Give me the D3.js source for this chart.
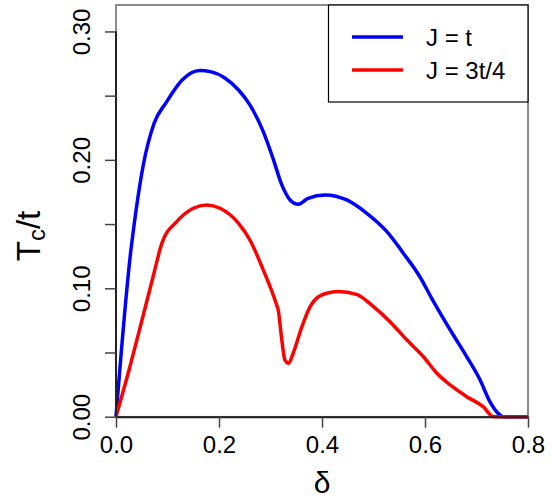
<!DOCTYPE html>
<html>
<head>
<meta charset="utf-8">
<script src="https://cdn.jsdelivr.net/npm/d3@7"></script>
<style>
  body { margin: 0; background: #fff; }
  svg { font-family: "Liberation Sans", Arial, sans-serif; }
</style>
</head>
<body>
<svg id="chart" width="552" height="501"></svg>
<script>
// --- Data (delta, Tc/t) ---
const deltaJt = [0, 0.029, 0.035, 0.053, 0.074, 0.098, 0.128, 0.163, 0.183, 0.212, 0.238, 0.260,
  0.286, 0.305, 0.322, 0.338, 0.354, 0.373, 0.406, 0.448, 0.487, 0.526, 0.558, 0.590,
  0.613, 0.655, 0.681, 0.707, 0.726, 0.742, 0.752, 0.8];
const tcJt = [0, 0.130, 0.149, 0.196, 0.2285, 0.245, 0.262, 0.2695, 0.2687, 0.2636, 0.2544, 0.2428,
  0.222, 0.201, 0.1805, 0.1688, 0.1654, 0.1701, 0.1727, 0.1688, 0.1584, 0.1441, 0.1273, 0.109,
  0.0922, 0.0636, 0.0467, 0.0286, 0.0117, 0.0026, 0, 0];

const deltaJ34 = [0, 0.027, 0.053, 0.072, 0.089, 0.118, 0.150, 0.176, 0.202, 0.238, 0.260, 0.286,
  0.312, 0.315, 0.322, 0.328, 0.335, 0.344, 0.361, 0.377, 0.386, 0.409, 0.432, 0.467,
  0.500, 0.532, 0.565, 0.597, 0.623, 0.649, 0.681, 0.713, 0.733, 0.8];
const tcJ34 = [0, 0.0389, 0.0792, 0.109, 0.135, 0.1519, 0.1623, 0.1649, 0.1623, 0.1506, 0.1376, 0.1143,
  0.087, 0.0831, 0.0597, 0.0442, 0.0416, 0.0494, 0.0701, 0.0857, 0.0909, 0.0961, 0.0974, 0.0953,
  0.0857, 0.074, 0.0597, 0.0467, 0.0338, 0.0247, 0.0156, 0.0078, 0, 0];

const seriesNames = ["J = t", "J = 3t/4"];
const seriesColors = ["#0000ff", "#ff0000"];
const xTicks = [0, 0.2, 0.4, 0.6, 0.8];
const yTicks = [0, 0.05, 0.10, 0.15, 0.20, 0.25, 0.30];
const yLabelTicks = [0, 0.10, 0.20, 0.30];

// --- Layout ---
const svg = d3.select("#chart");
const plot = { left: 116, right: 528, top: 5, bottom: 416.7 };

const x = d3.scaleLinear().domain([0, 0.8]).range([plot.left, plot.right]);
const y = d3.scaleLinear().domain([0, 0.3206]).range([plot.bottom, plot.top]);

// box around the plot (grey, like R's box())
svg.append("rect")
  .attr("x", plot.left).attr("y", plot.top)
  .attr("width", plot.right - plot.left).attr("height", plot.bottom - plot.top)
  .attr("fill", "none").attr("stroke", "#666").attr("stroke-width", 1.5);

// --- Curves ---
const line = d3.line().x(d => x(d[0])).y(d => y(d[1])).curve(d3.curveMonotoneX);
const curves = [d3.zip(deltaJt, tcJt), d3.zip(deltaJ34, tcJ34)];

svg.selectAll(".curve")
  .data(curves)
  .join("path")
  .attr("class", "curve")
  .attr("d", line)
  .attr("fill", "none")
  .attr("stroke", (d, i) => seriesColors[i])
  .attr("stroke-width", 3.5)
  .attr("stroke-linejoin", "round");

// --- Axes ---
const xAxis = svg.append("g")
  .attr("transform", `translate(0,${plot.bottom})`)
  .call(d3.axisBottom(x).tickValues(xTicks).tickSize(11).tickPadding(8)
    .tickFormat(d3.format(".1f")).tickSizeOuter(0));

const yAxis = svg.append("g")
  .attr("transform", `translate(${plot.left},0)`)
  .call(d3.axisLeft(y).tickValues(yTicks).tickSize(11).tickSizeOuter(0)
    .tickFormat(d => yLabelTicks.some(v => Math.abs(v - d) < 1e-9) ? d3.format(".2f")(d) : ""));

[xAxis, yAxis].forEach(g => {
  g.select(".domain").attr("stroke", "#222").attr("stroke-width", 2);
  g.selectAll(".tick line").attr("stroke", "#444").attr("stroke-width", 1.5);
  g.selectAll(".tick text").attr("fill", "#000").style("font-size", "24px")
    .style("font-family", "'Liberation Sans', Arial, sans-serif");
});

// left axis only spans the tick range in R
yAxis.select(".domain").attr("d", `M0,${y(0)}V${y(0.30)}`);

// rotate y tick labels (R's las = 0)
yAxis.selectAll(".tick text")
  .attr("x", null).attr("dy", null)
  .attr("text-anchor", "middle")
  .attr("transform", "translate(-26,0) rotate(-90)");

// --- Axis titles ---
svg.append("text")
  .attr("x", 322).attr("y", 493)
  .attr("text-anchor", "middle")
  .style("font-size", "30px")
  .text("δ");

const yTitle = svg.append("text")
  .attr("transform", "translate(40,236) rotate(-90)")
  .attr("text-anchor", "middle")
  .style("font-size", "33px");
yTitle.append("tspan").text("T");
yTitle.append("tspan").attr("dy", 5).style("font-size", "24px").text("c");
yTitle.append("tspan").attr("dy", -5).text("/t");

// --- Legend ---
const legend = svg.append("g");
legend.append("rect")
  .attr("x", 328.5).attr("y", 5)
  .attr("width", plot.right - 328.5).attr("height", 97)
  .attr("fill", "#fff").attr("stroke", "#000").attr("stroke-width", 1.2);

legend.selectAll(".legend-item")
  .data(seriesNames)
  .join("g")
  .attr("class", "legend-item")
  .attr("transform", (d, i) => `translate(0,${37 + i * 33})`)
  .call(g => {
    g.append("line")
      .attr("x1", 352).attr("x2", 403)
      .attr("stroke", (d, i) => seriesColors[i])
      .attr("stroke-width", 3.5);
    g.append("text")
      .attr("x", 426).attr("y", 9)
      .style("font-size", "24px")
      .text(d => d);
  });
</script>
</body>
</html>
